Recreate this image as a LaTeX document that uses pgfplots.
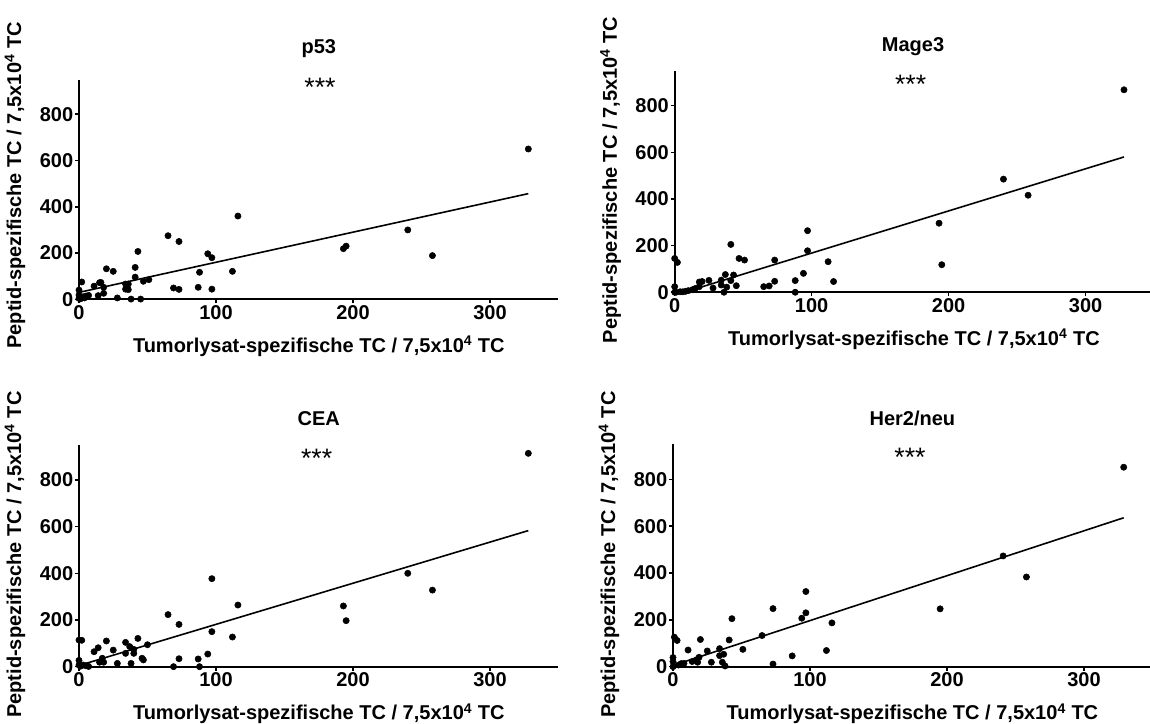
\documentclass[border=0pt]{standalone}
\usepackage{fontspec}
\setmainfont{Liberation Sans}
\usepackage{pgfplots}
\pgfplotsset{compat=1.18}

\newcommand\lab{\fontsize{15}{17}\selectfont\bfseries}
\newcommand\sig{\fontsize{20}{23}\selectfont}
\newcommand\xlab{Tumorlysat-spezifische TC / 7,5x10\textsuperscript{4} TC}
\newcommand\ylab{Peptid-spezifische TC / 7,5x10\textsuperscript{4} TC}

\pgfplotsset{
  panel/.style={
    scale only axis, width=359.6pt,
    anchor=south west,
    xmin=0, xmax=350, ymin=0, ymax=950,
    axis lines*=left,
    axis line style={line width=1.5pt, -},
    xtick={0,100,200,300}, ytick={0,200,400,600,800},
    tick align=outside, major tick length=3pt,
    tick style={line width=1.2pt, black},
    tick label style={font=\lab, inner sep=1.2pt},
    /pgf/number format/assume math mode=true,
    clip=false,
  },
  dots/.style={only marks, mark=*, mark size=2.35pt, black},
  fit/.style={no marks, black, line width=1.2pt},
}

\begin{document}
\begin{tikzpicture}
\useasboundingbox (0,0) rectangle (862.5pt,543pt);

% p53
\begin{axis}[panel, at={(59.25pt,318.5pt)}, height=164.8pt]
\addplot[dots] coordinates {
(328,650) (240,300) (258,189) (193,219) (195,230)
(116,360) (65,275) (73,250) (43,207) (41,138) (41,96) (20,132) (25,121)
(94,197) (97,180) (88,117) (112,121) (69,49) (73,43) (87,52) (97,44)
(2,75) (11,57) (15,72) (16,73) (18,52) (18,26) (14,16) (34,66) (36,66)
(34,44) (36,42) (47,78) (51,85) (28,6) (38,1) (45,1)
(0,40) (0,19) (0,4) (3,11) (5,14) (7,17) (1,2) (4,6)
};
\addplot[fit] coordinates {(0,30) (328,457)};
\end{axis}

% Mage3
\begin{axis}[panel, at={(506pt,323.8pt)}, height=166.2pt]
\addplot[dots] coordinates {
(328,868) (240,485) (258,416) (193,296) (195,118)
(97,264) (97,178) (112,131) (116,46) (94,81) (88,50) (88,0) (73,138) (73,47)
(69,27) (65,24) (41,205) (47,145) (51,138) (43,74) (45,28) (37,76) (41,50)
(34,52) (34,31) (38,22) (36,0) (25,51) (28,18) (20,46) (18,44) (18,24)
(15,16) (13,11) (10,7)
(0,145) (2,128) (0,24) (0,0) (4,2) (6,2) (1,0) (8,4)
};
\addplot[fit] coordinates {(7,0) (328,580)};
\end{axis}

% CEA
\begin{axis}[panel, at={(59.25pt,43pt)}, height=166.3pt]
\addplot[dots] coordinates {
(328,914) (240,400) (258,328) (193,260) (195,197)
(97,377) (97,150) (116,264) (112,127) (94,54) (87,33) (88,0) (73,181) (73,34)
(69,0) (65,223) (50,94) (43,121) (34,104) (20,110) (14,81) (11,64) (25,71)
(37,86) (40,74) (34,57) (40,57) (46,36) (47,29) (17,36) (18,19) (15,19)
(28,14) (38,14)
(0,114) (2,113) (0,27) (0,7) (3,7) (5,4) (7,1) (1,2)
};
\addplot[fit] coordinates {(0,5) (328,583)};
\end{axis}

% Her2/neu
\begin{axis}[panel, at={(504.75pt,43pt)}, height=166.8pt]
\addplot[dots] coordinates {
(329,852) (241,473) (258,383) (195,247)
(97,321) (97,230) (94,207) (116,187) (112,69) (87,46) (73,248) (73,11)
(65,133) (51,74) (43,205) (41,114) (20,116) (11,71) (25,67) (34,77) (37,53)
(34,47) (28,19) (36,19) (38,3) (17,29) (18,19) (14,22) (19,40)
(1,126) (3,112) (0,39) (0,22) (0,0) (4,7) (6,13) (8,14)
};
\addplot[fit] coordinates {(0,5) (329,636)};
\end{axis}

% panel titles and significance marks
\node[font=\lab, anchor=base] at (239.1pt,503pt) {p53};
\node[font=\lab, anchor=base] at (684.8pt,504.3pt) {Mage3};
\node[font=\lab, anchor=base] at (239.1pt,223.5pt) {CEA};
\node[font=\lab, anchor=base] at (684.3pt,223.5pt) {Her2/neu};
\node[font=\sig, anchor=base] at (240pt,470.5pt) {***};
\node[font=\sig, anchor=base] at (683pt,472.5pt) {***};
\node[font=\sig, anchor=base] at (237.5pt,192.3pt) {***};
\node[font=\sig, anchor=base] at (682.5pt,192.8pt) {***};

% axis labels
\node[font=\lab, anchor=base] at (239.1pt,278.5pt) {\xlab};
\node[font=\lab, anchor=base] at (685.5pt,283.8pt) {\xlab};
\node[font=\lab, anchor=base] at (239.1pt,3pt) {\xlab};
\node[font=\lab, anchor=base] at (684.3pt,3pt) {\xlab};
\node[font=\lab, rotate=90] at (11.25pt,404pt) {\ylab};
\node[font=\lab, rotate=90] at (458pt,408pt) {\ylab};
\node[font=\lab, rotate=90] at (11.25pt,127pt) {\ylab};
\node[font=\lab, rotate=90] at (456.75pt,127pt) {\ylab};
\end{tikzpicture}
\end{document}
